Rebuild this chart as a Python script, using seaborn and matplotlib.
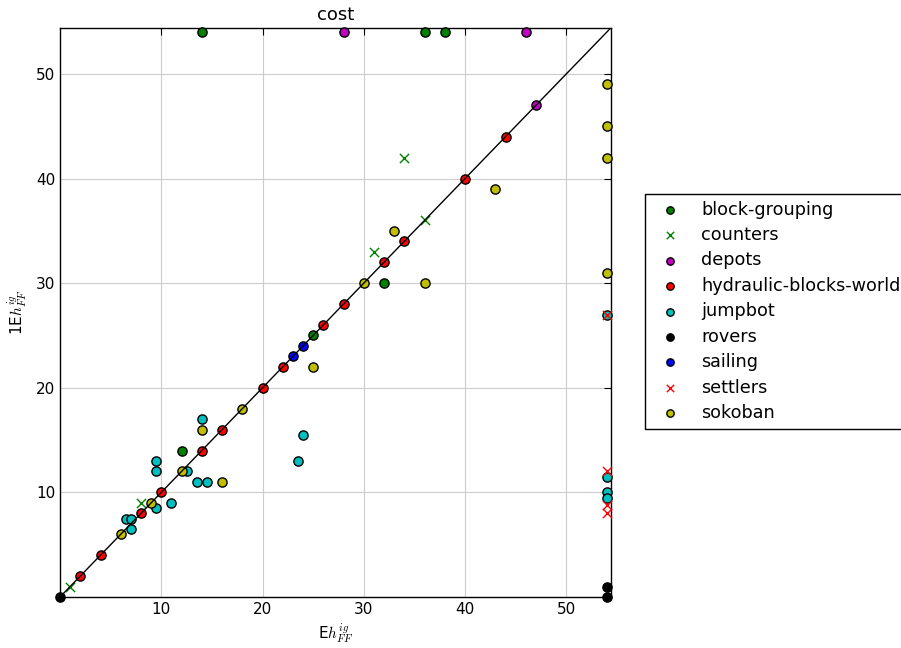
import numpy as np
import matplotlib
matplotlib.use("Agg")
import matplotlib.pyplot as plt
import seaborn as sns

# ── data (54 = "no solution" cap) ───────────────────────────────────
block_grouping_x = [14, 36, 38, 12, 25, 32]
block_grouping_y = [54, 54, 54, 14, 25, 30]
counters_x = [1, 8, 31, 36, 34]
counters_y = [1, 9, 33, 36, 42]
depots_x = [28, 46, 47]
depots_y = [54, 54, 47]
hydraulic_x = [2, 4, 8, 10, 14, 16, 20, 22, 26, 28, 32, 34, 40, 44]
hydraulic_y = [2, 4, 8, 10, 14, 16, 20, 22, 26, 28, 32, 34, 40, 44]
jumpbot_x = [6.5, 7, 7, 9.5, 9.5, 9.5, 11, 12.5, 13.5, 14.5, 14, 23.5, 24,
             54, 54, 54, 54]
jumpbot_y = [7.5, 7.5, 6.5, 8.5, 12, 13, 9, 12, 11, 11, 17, 13, 15.5,
             27, 11.5, 10, 9.5]
rovers_x = [0, 54, 54]
rovers_y = [0, 1, 0]
sailing_x = [23, 24]
sailing_y = [23, 24]
settlers_x = [54, 54, 54, 54]
settlers_y = [27, 12, 8.8, 8]
sokoban_x = [6, 9, 12, 14, 16, 18, 25, 30, 33, 36, 43, 54, 54, 54, 54]
sokoban_y = [6, 9, 12, 16, 11, 18, 22, 30, 35, 30, 39, 49, 45, 42, 31]

series = [
    ("block-grouping", block_grouping_x, block_grouping_y, "g", "o"),
    ("counters", counters_x, counters_y, "g", "x"),
    ("depots", depots_x, depots_y, "m", "o"),
    ("hydraulic-blocks-world", hydraulic_x, hydraulic_y, "r", "o"),
    ("jumpbot", jumpbot_x, jumpbot_y, "c", "o"),
    ("rovers", rovers_x, rovers_y, "k", "o"),
    ("sailing", sailing_x, sailing_y, "b", "o"),
    ("settlers", settlers_x, settlers_y, "r", "x"),
    ("sokoban", sokoban_x, sokoban_y, "y", "o"),
]
lim = 54.4

# ── style ───────────────────────────────────────────────────────────
sns.set_style("white")
plt.rcParams.update({
    "font.family": ["DejaVu Sans"],
    "mathtext.fontset": "cm",
    "text.color": "black",
    "axes.labelcolor": "black",
    "xtick.direction": "in",
    "ytick.direction": "in",
    "xtick.top": True,
    "ytick.right": True,
    "xtick.major.size": 5,
    "ytick.major.size": 5,
    "axes.edgecolor": "black",
    "axes.linewidth": 1.0,
})

fig = plt.figure(figsize=(9.01, 6.48), dpi=100)
ax = fig.add_axes([0.0666, 0.0787, 0.6114, 0.8783])

for name, xs, ys, col, mk in series:
    if mk == "o":
        sns.scatterplot(x=xs, y=ys, ax=ax, color=col, marker="o", s=44,
                        edgecolor="black", linewidth=1, label=name,
                        clip_on=False, zorder=3)
    else:
        sns.scatterplot(x=xs, y=ys, ax=ax, color=col, marker="x", s=44,
                        linewidth=1, label=name, clip_on=False, zorder=3)

ax.plot([0, lim], [0, lim], color="black", linewidth=1, zorder=4)

ax.set_xlim(0, lim)
ax.set_ylim(0, lim)
ax.set_xticks([10, 20, 30, 40, 50])
ax.set_yticks([10, 20, 30, 40, 50])
ax.tick_params(labelsize=11, colors="black")
ax.grid(True, color="#cccccc", linewidth=0.8)
ax.set_axisbelow(True)

ax.set_title("cost", fontsize=13, color="black")
ax.set_xlabel(r"E$h^{ig}_{FF}$", fontsize=11)
ax.set_ylabel(r"1E$h^{ig}_{FF}$", fontsize=11)

leg = ax.legend(loc="center left", bbox_to_anchor=(1.062, 0.502),
                borderaxespad=0, scatterpoints=1, fancybox=False,
                edgecolor="black", framealpha=1, fontsize=12.7,
                markerscale=0.8, labelspacing=0.42)
for t in leg.get_texts():
    t.set_color("black")

fig.savefig("out.png", dpi=100)
plt.close(fig)
